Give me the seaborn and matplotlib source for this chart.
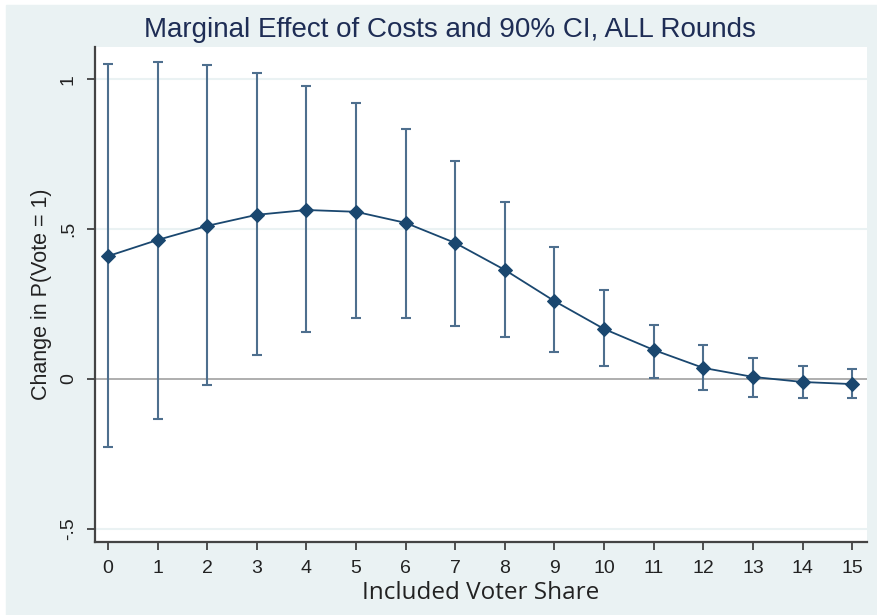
import numpy as np
import pandas as pd
import seaborn as sns
import matplotlib.pyplot as plt
from matplotlib.patches import Rectangle

# Values
share = list(range(16))
effect = [0.41, 0.464, 0.511, 0.548, 0.564, 0.558, 0.521, 0.454,
          0.364, 0.26, 0.167, 0.097, 0.037, 0.007, -0.01, -0.017]
ci_upper = [1.052, 1.058, 1.048, 1.022, 0.978, 0.921, 0.835, 0.728,
            0.591, 0.441, 0.297, 0.18, 0.113, 0.07, 0.043, 0.033]
ci_lower = [-0.227, -0.134, -0.02, 0.08, 0.157, 0.204, 0.204, 0.177,
            0.14, 0.09, 0.043, 0.003, -0.037, -0.06, -0.063, -0.063]

df = pd.DataFrame({'share': share, 'effect': effect,
                   'lo': ci_lower, 'hi': ci_upper})

bg = '#EAF2F3'
navy = '#1a476f'
ci_col = '#4e6f8e'

sns.set_style('white')
plt.rcParams['font.family'] = ['Liberation Sans', 'DejaVu Sans']

fig = plt.figure(figsize=(8.77, 6.15), dpi=100, facecolor='white')
# light outer region as in Stata graphs, with a thin white edge top/left
fig.patches.append(Rectangle((6 / 877, 0), 1, 1 - 5 / 615,
                             transform=fig.transFigure, color=bg,
                             zorder=-10))
ax = fig.add_axes([0.1083, 0.1187, 0.8803, 0.8049])
ax.set_facecolor('white')

# grid lines and zero line
for yv in [-0.5, 0.5, 1.0]:
    ax.axhline(yv, color=bg, lw=1.5, zorder=0)
ax.axhline(0, color='#999999', lw=1.1, zorder=1)

# confidence intervals with caps
ax.errorbar(df['share'], df['effect'],
            yerr=[df['effect'] - df['lo'], df['hi'] - df['effect']],
            fmt='none', ecolor=ci_col, elinewidth=1.5, capsize=3.8,
            capthick=1.5, zorder=2)

sns.lineplot(data=df, x='share', y='effect', ax=ax, color=navy, lw=1.3,
             marker='D', markersize=7, markeredgecolor=navy, zorder=3)

ax.set_xlim(-0.262, 15.30)
ax.set_ylim(-0.544, 1.108)
ax.set_xticks(share)
ax.set_yticks([-0.5, 0, 0.5, 1])
ax.set_yticklabels(['-.5', '0', '.5', '1'], rotation=90, va='center')

for s in ['top', 'right']:
    ax.spines[s].set_visible(False)
for s in ['left', 'bottom']:
    ax.spines[s].set_color('#444444')
    ax.spines[s].set_linewidth(1.6)

ax.tick_params(axis='both', direction='out', length=6, width=1.2,
               bottom=True, left=True,
               color='#333333', labelsize=14, labelcolor='#222222', pad=7)

ax.set_xlabel('Included Voter Share', fontsize=17.5, color='#222222',
              labelpad=3, family=['Open Sans', 'DejaVu Sans'])
ax.set_ylabel('Change in P(Vote = 1)', fontsize=15.5, color='#222222',
              labelpad=6)
fig.suptitle('Marginal Effect of Costs and 90% CI, ALL Rounds',
             fontsize=20, color='#1e2d55', x=0.513, y=0.972)

plt.savefig('out.png', dpi=100)
